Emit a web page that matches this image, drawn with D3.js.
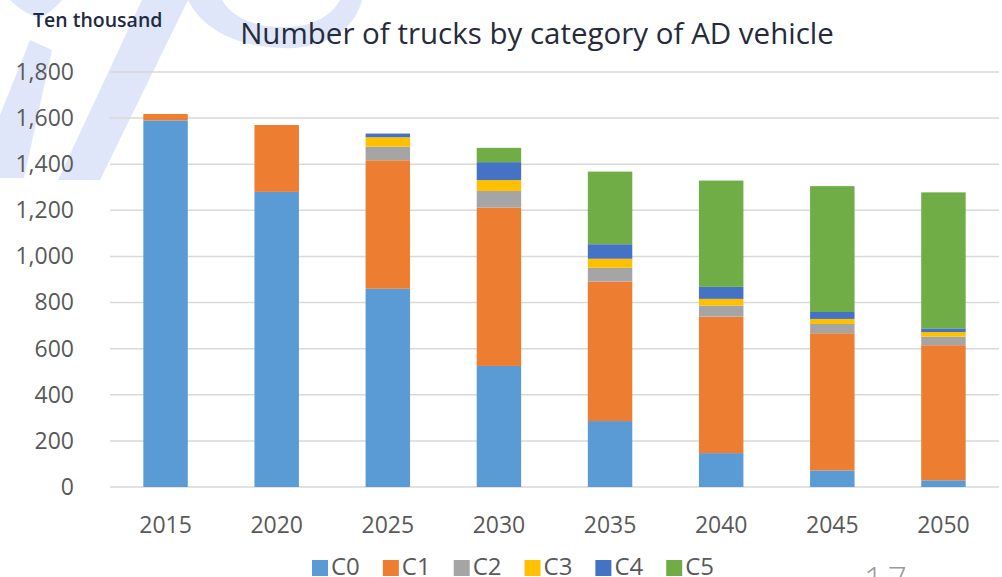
<!DOCTYPE html>
<html><head><meta charset="utf-8">
<script src="https://cdn.jsdelivr.net/npm/d3@7"></script>
<style>body{margin:0;background:#fff;overflow:hidden}svg{display:block}</style>
</head><body>
<svg id="c" width="1002" height="577"></svg>
<script>
const years = ["2015","2020","2025","2030","2035","2040","2045","2050"];
const seriesNames = ["C0","C1","C2","C3","C4","C5"];
const C0 = [1590,1280,860,525,286,147,72,29];
const C1 = [28,290,557,687,605,592,595,586];
const C2 = [0,0,59,72,60,48,40,37];
const C3 = [0,0,41,47,39,29,22,20];
const C4 = [0,0,16,78,63,52,30,16];
const C5 = [0,0,0,62,315,461,546,590];
const yTicks = [0,200,400,600,800,1000,1200,1400,1600,1800];
const colors = ["#5B9BD5","#ED7D31","#A5A5A5","#FFC000","#4472C4","#70AD47"];

const seriesVals = [C0,C1,C2,C3,C4,C5];
const rows = years.map((y,i)=>{const r={year:y};seriesNames.forEach((s,j)=>r[s]=seriesVals[j][i]);return r;});
const stack = d3.stack().keys(seriesNames)(rows);

const svg = d3.select("#c");
const font = "'Open Sans','Noto Sans',sans-serif";
const x = d3.scaleBand().domain(years).range([110,999]).paddingInner(0.6).paddingOuter(0.3);
const y = d3.scaleLinear().domain([0,1800]).range([487,72]);

// faint watermark shapes (top-left)
const wm = svg.append("g").attr("fill","#c2cef5").attr("opacity",0.5);
wm.append("path").attr("d","M0,178 L0,115 L30,40 L52,50 L24,178 Z");
wm.append("path").attr("d","M58,180 L100,180 L188,0 L142,0 Z");
wm.append("path").attr("d","M10,0 L62,0 C55,8 48,14 40,18 C30,16 18,8 10,0 Z");
wm.append("path").attr("d","M188,0 L222,0 C235,22 265,30 300,26 C322,22 335,10 340,0 L362,0 C355,28 330,45 295,48 C250,50 205,35 188,0 Z");

// gridlines
svg.append("g").selectAll("line").data(yTicks).join("line")
  .attr("x1",110).attr("x2",999).attr("y1",d=>y(d)).attr("y2",d=>y(d))
  .attr("stroke","#d9d9d9").attr("stroke-width",1.5);

// y axis labels
const yAxis = d3.axisLeft(y).tickValues(yTicks).tickFormat(d3.format(",")).tickSize(0).tickPadding(0);
const ga = svg.append("g").attr("transform","translate(74,0)").call(yAxis);
ga.select(".domain").remove();
ga.selectAll("text").attr("font-family",font).attr("font-size",23).attr("fill","#595959");

// bars
svg.append("g").selectAll("g").data(stack).join("g").attr("fill",(d,i)=>colors[i])
  .selectAll("rect").data(d=>d).join("rect")
  .attr("x",d=>x(d.data.year)).attr("width",x.bandwidth())
  .attr("y",d=>y(d[1])).attr("height",d=>Math.max(0,y(d[0])-y(d[1])));

// x axis
const xAxis = d3.axisBottom(x).tickSize(0).tickPadding(0);
const gx = svg.append("g").attr("transform","translate(0,517)").call(xAxis);
gx.select(".domain").remove();
gx.selectAll("text").attr("font-family",font).attr("font-size",23).attr("fill","#595959");

// title
svg.append("text").attr("x",537).attr("y",44).attr("text-anchor","middle")
  .attr("font-family",font).attr("font-size",29.5).attr("fill","#262b3a")
  .text("Number of trucks by category of AD vehicle");
svg.append("text").attr("x",33).attr("y",27)
  .attr("font-family",font).attr("font-size",19.5).attr("font-weight",600).attr("fill","#1f2a44")
  .text("Ten thousand");

// legend (sequential layout)
const legend = svg.append("g");
let lx = 312;
seriesNames.forEach((s,i)=>{
  const g = legend.append("g").attr("transform",`translate(${lx},0)`);
  g.append("rect").attr("x",0).attr("y",560).attr("width",16).attr("height",16).attr("fill",colors[i]);
  const t = g.append("text").attr("x",19).attr("y",575).attr("font-family",font).attr("font-size",24).attr("fill","#595959").text(s);
  lx += 19 + t.node().getComputedTextLength() + 23;
});

// page number
svg.append("text").attr("x",864).attr("y",592).attr("font-family",font).attr("font-size",34).attr("font-weight",300).attr("letter-spacing",4).attr("fill","#9a9a9a").text("17");
</script>
</body></html>
